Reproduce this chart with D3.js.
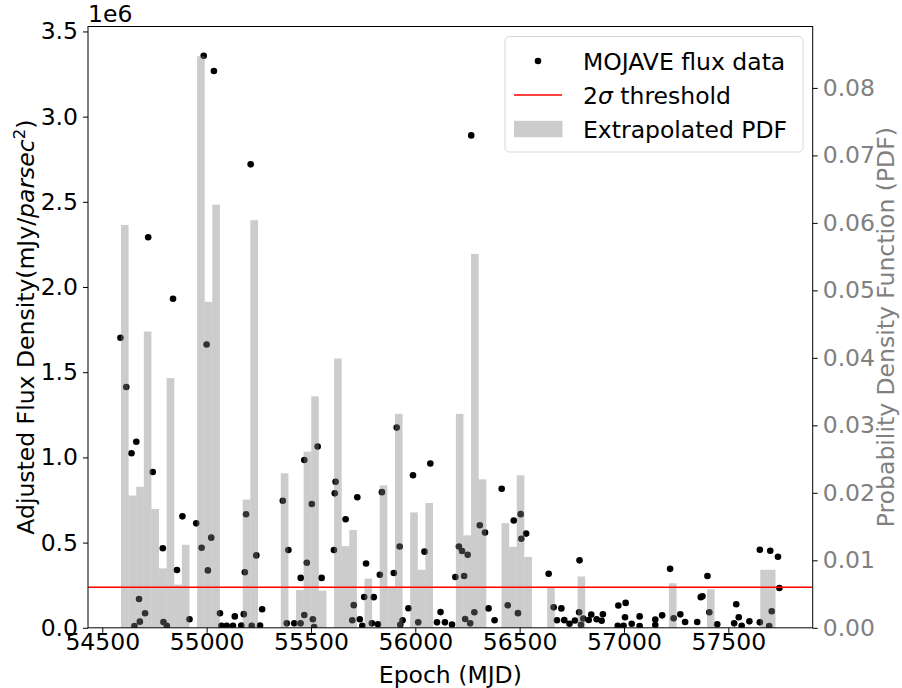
<!DOCTYPE html>
<html><head><meta charset="utf-8">
<script src="https://cdn.jsdelivr.net/npm/d3@7"></script>
<style>body{margin:0;background:#fff} text{font-family:"DejaVu Sans",sans-serif}</style>
</head><body><svg id="c" width="902" height="688"></svg>
<script>
// MOJAVE epochs (MJD) and adjusted flux density (units of 1e6 mJy/parsec^2)
const epochs = [54587,54615,54640,54654,54663,54676,54680,54705,54720,54742,54790,54793,54809,54839,54858,54884,54918,54950,54976,54986,55000,55006,55022,55035,55064,55071,55096,55126,55135,55166,55178,55183,55189,55211,55216,55238,55256,55266,55365,55384,55392,55420,55450,55451,55468,55468,55480,55504,55509,55515,55532,55551,55610,55614,55618,55666,55698,55705,55722,55734,55746,55755,55764,55792,55801,55821,55830,55840,55897,55911,55925,55928,55939,55967,55989,56014,56044,56072,56104,56121,56142,56176,56192,56209,56224,56234,56239,56251,56263,56268,56283,56309,56334,56351,56380,56414,56443,56472,56492,56505,56508,56531,56639,56663,56679,56700,56714,56739,56765,56785,56787,56794,56805,56831,56843,56869,56893,56899,56970,56973,56998,57005,57008,57037,57075,57075,57150,57150,57183,57221,57238,57270,57293,57351,57368,57376,57400,57409,57447,57528,57538,57550,57564,57601,57651,57651,57696,57701,57708,57738,57745];
const fluxE6 = [1.702,1.413,1.024,0.011,1.092,0.169,0.036,0.085,2.292,0.914,0.467,0.034,0.012,1.931,0.339,0.654,0.050,0.613,0.470,3.357,1.663,0.337,0.529,3.268,0.085,0.012,0.012,0.012,0.067,0.013,0.080,0.326,0.666,2.720,0.012,0.425,0.013,0.109,0.746,0.026,0.457,0.026,0.026,0.293,0.985,0.075,0.382,0.727,0.050,0.005,1.064,0.293,0.457,0.789,0.857,0.637,0.044,0.133,0.766,0.050,0.012,0.181,0.377,0.026,0.180,0.021,0.311,0.796,0.322,1.175,0.477,0.018,0.044,0.115,0.895,0.032,0.447,0.964,0.032,0.092,0.032,0.019,0.298,0.477,0.451,0.304,0.052,0.428,0.026,2.890,0.091,0.602,0.559,0.114,0.044,0.816,0.132,0.630,0.086,0.667,0.523,0.553,0.317,0.120,0.044,0.114,0.045,0.024,0.043,0.091,0.396,0.018,0.055,0.046,0.078,0.050,0.041,0.079,0.012,0.131,0.012,0.062,0.146,0.024,0.067,0.011,0.048,0.016,0.073,0.346,0.056,0.079,0.034,0.034,0.180,0.185,0.304,0.091,0.021,0.026,0.138,0.062,0.012,0.038,0.458,0.032,0.011,0.452,0.097,0.417,0.234];
// Extrapolated PDF histogram
const pdfBinStart = 54589.6;
const pdfBinWidth = 36.47;
const pdfValues = [0.0597,0.0196,0.0209,0.0439,0.0176,0.0088,0.0370,0.0064,0.0123,0,
  0.0847,0.0483,0.0627,0,0,0,0.0190,0.0604,0,0,
  0,0.0229,0,0.0056,0.0261,0.0343,0.0055,0,0.0399,0.0121,
  0.0145,0,0.0073,0,0.0211,0.0061,0.0317,0,0.0171,0.0086,
  0.0185,0,0,0,0.0317,0.0137,0.0554,0.0220,0,0,
  0.0155,0.0120,0.0226,0.0105,0,0,0.0060,0,0,0,
  0.0076,0,0,0,0,0,0,0,0,0,
  0,0,0.0066,0,0,0,0,0.0057,0,0,
  0,0,0,0,0.0086,0.0086];
const thresholdE6 = 0.2377;
const xTicks = [54500,55000,55500,56000,56500,57000,57500];
const yLeftTicks = [0,0.5,1.0,1.5,2.0,2.5,3.0,3.5];
const yRightTicks = [0,0.01,0.02,0.03,0.04,0.05,0.06,0.07,0.08];
const legendLabels = ["MOJAVE flux data","threshold","Extrapolated PDF"];

const L=88, R=812.7, T=26.5, B=627.8, FS=23.5;
const svg = d3.select("#c");
const x = d3.scaleLinear().domain([54431.5,57904.4]).range([L,R]);
const yL = d3.scaleLinear().domain([0,3.529]).range([B,T]);
const yR = d3.scaleLinear().domain([0,0.0891]).range([B,T]);

svg.append("defs").append("clipPath").attr("id","clip").append("rect")
  .attr("x",L).attr("y",T).attr("width",R-L).attr("height",B-T);
const plot = svg.append("g").attr("clip-path","url(#clip)");

// points
plot.append("g").selectAll("circle").data(epochs.map((e,i)=>[e,fluxE6[i]])).join("circle")
  .attr("cx",d=>x(d[0])).attr("cy",d=>yL(d[1])).attr("r",3.3).attr("fill","#000");
// bars
plot.append("g").selectAll("rect").data(pdfValues.map((v,i)=>({v,i})).filter(d=>d.v>0)).join("rect")
  .attr("x",d=>x(pdfBinStart+d.i*pdfBinWidth))
  .attr("width",d=>x(pdfBinStart+(d.i+1)*pdfBinWidth)-x(pdfBinStart+d.i*pdfBinWidth))
  .attr("y",d=>yR(d.v)).attr("height",d=>B-yR(d.v))
  .attr("fill","#808080").attr("fill-opacity",0.4);
// threshold
plot.append("line").attr("x1",L).attr("x2",R).attr("y1",yL(thresholdE6)).attr("y2",yL(thresholdE6))
  .attr("stroke","#ff0000").attr("stroke-width",1.5);

// axes
function style(g,color){
  g.select(".domain").remove();
  g.selectAll("line").attr("stroke",color).attr("stroke-width",1);
  g.selectAll("text").attr("font-size",FS).attr("fill",color).attr("font-family","DejaVu Sans");
}
const gx = svg.append("g").attr("transform",`translate(0,${B})`)
  .call(d3.axisBottom(x).tickValues(xTicks).tickFormat(d3.format("d")).tickSize(5).tickPadding(5));
style(gx,"#000"); gx.selectAll("text").attr("dy",null).attr("y",22);
const gyl = svg.append("g").attr("transform",`translate(${L},0)`)
  .call(d3.axisLeft(yL).tickValues(yLeftTicks).tickFormat(d3.format(".1f")).tickSize(5).tickPadding(5));
style(gyl,"#000");
const gyr = svg.append("g").attr("transform",`translate(${R},0)`)
  .call(d3.axisRight(yR).tickValues(yRightTicks).tickFormat(d3.format(".2f")).tickSize(5).tickPadding(5));
style(gyr,"#808080"); gyr.selectAll("line").attr("stroke","#000");

// spines
svg.append("rect").attr("x",L).attr("y",T).attr("width",R-L).attr("height",B-T)
  .attr("fill","none").attr("stroke","#000").attr("stroke-width",1);

// labels
svg.append("text").attr("x",(L+R)/2).attr("y",683).attr("text-anchor","middle").attr("font-size",FS).text("Epoch (MJD)");
const yl = svg.append("text").attr("transform",`translate(34,${(T+B)/2}) rotate(-90)`).attr("text-anchor","middle").attr("font-size",FS);
yl.append("tspan").text("Adjusted Flux Density(mJy/");
yl.append("tspan").attr("font-style","italic").text("parsec");
yl.append("tspan").attr("font-size",16.5).attr("dy",-9).text("2");
yl.append("tspan").attr("dy",9).text(")");
svg.append("text").attr("transform",`translate(894,${(T+B)/2}) rotate(-90)`).attr("text-anchor","middle")
  .attr("font-size",FS).attr("fill","#808080").text("Probability Density Function (PDF)");
svg.append("text").attr("x",L).attr("y",22).attr("font-size",FS).text("1e6");

// legend
const lg = svg.append("g");
lg.append("rect").attr("x",505).attr("y",36.5).attr("width",298).attr("height",115.5).attr("rx",4.5)
  .attr("fill","#fff").attr("fill-opacity",0.8).attr("stroke","#d6d6d6").attr("stroke-width",1);
const rows=[61,95,129];
lg.append("circle").attr("cx",538).attr("cy",rows[0]).attr("r",3.3).attr("fill","#000");
lg.append("line").attr("x1",514).attr("x2",562).attr("y1",rows[1]).attr("y2",rows[1]).attr("stroke","#ff0000").attr("stroke-width",1.5);
lg.append("rect").attr("x",514).attr("y",rows[2]-8.2).attr("width",48.5).attr("height",16.4).attr("fill","#808080").attr("fill-opacity",0.4);
lg.append("text").attr("x",583).attr("y",rows[0]+8.5).attr("font-size",FS).text(legendLabels[0]);
const t2 = lg.append("text").attr("x",583).attr("y",rows[1]+8.5).attr("font-size",FS);
t2.append("tspan").text("2");
t2.append("tspan").attr("font-style","italic").text("σ");
t2.append("tspan").text(" "+legendLabels[1]);
lg.append("text").attr("x",583).attr("y",rows[2]+8.5).attr("font-size",FS).text(legendLabels[2]);
</script></body></html>
